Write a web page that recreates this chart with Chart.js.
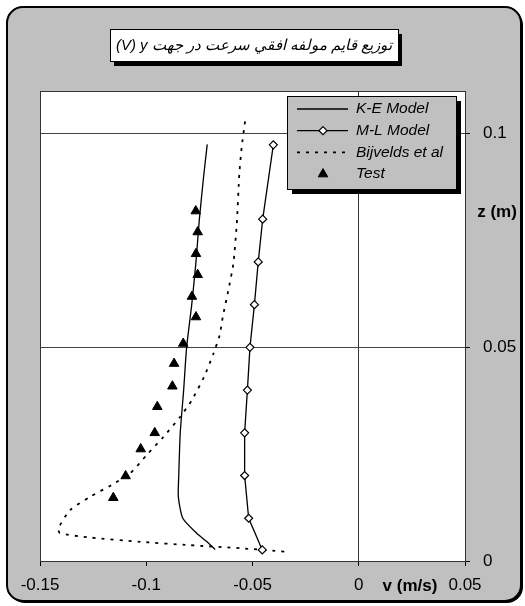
<!DOCTYPE html>
<html>
<head>
<meta charset="utf-8">
<script src="https://cdn.jsdelivr.net/npm/chart.js@4.4.1/dist/chart.umd.min.js"></script>
<style>
html, body { margin: 0; padding: 0; background: #fff; }
</style>
</head>
<body>
<canvas id="chart" width="525" height="606"></canvas>
<script>
// title is written in visual order (LTR canvas) so it reads like the original
var titleText = '(V) y توزیع قایم مولفه افقي سرعت در جهت';
var xTitle = 'v (m/s)';
var yTitle = 'z (m)';

var xTicks = [-0.15, -0.1, -0.05, 0, 0.05];
var yTicks = [0, 0.05, 0.1];

// K-E Model
var keZ = [0.0975, 0.09, 0.08, 0.07, 0.06, 0.05, 0.04, 0.03, 0.02, 0.015, 0.01, 0.0065, 0.0045, 0.0027];
var keV = [-0.0713, -0.0730, -0.0750, -0.0766, -0.0786, -0.0810, -0.0824, -0.0840, -0.0847, -0.0849, -0.0828, -0.0763, -0.0714, -0.0676];

// M-L Model
var mlZ = [0.0974, 0.08, 0.07, 0.06, 0.05, 0.04, 0.03, 0.02, 0.01, 0.0026];
var mlV = [-0.0402, -0.0452, -0.0473, -0.0491, -0.0512, -0.0524, -0.0537, -0.0537, -0.0518, -0.0454];

// Bijvelds et al
var bjZ = [0.1029, 0.0968, 0.0906, 0.0789, 0.0696, 0.0633, 0.0571, 0.0528, 0.0485, 0.0431, 0.0376, 0.0337, 0.029, 0.0248, 0.0205, 0.0178, 0.015, 0.0119, 0.0076, 0.0065, 0.0055, 0.0045, 0.0037, 0.003, 0.0022];
var bjV = [-0.0535, -0.0551, -0.0562, -0.0574, -0.0590, -0.0614, -0.0640, -0.0655, -0.0684, -0.0728, -0.0786, -0.0841, -0.0920, -0.0998, -0.1076, -0.1163, -0.1265, -0.1359, -0.1414, -0.1406, -0.1265, -0.1029, -0.0794, -0.0559, -0.0347];

// Test
var testZ = [0.0819, 0.0770, 0.0719, 0.0670, 0.0619, 0.0571, 0.0509, 0.0462, 0.0409, 0.0361, 0.0300, 0.0262, 0.0199, 0.0148];
var testV = [-0.0767, -0.0758, -0.0766, -0.0758, -0.0785, -0.0766, -0.0826, -0.0869, -0.0877, -0.0948, -0.0960, -0.1026, -0.1097, -0.1155];

function pts(xs, ys) {
  var out = [];
  for (var i = 0; i < xs.length; i++) out.push({x: xs[i], y: ys[i]});
  return out;
}

var sansFont = '"Liberation Sans", Arial, "DejaVu Sans", sans-serif';

var decor = {
  id: 'decor',
  beforeDraw: function(chart) {
    var ctx = chart.ctx, a = chart.chartArea;
    ctx.save();
    ctx.fillStyle = '#fff';
    ctx.fillRect(0, 0, chart.width, chart.height);
    // outer rounded frame with shadow
    ctx.fillStyle = '#000';
    ctx.beginPath();
    ctx.roundRect(9, 9, 514, 594, 16);
    ctx.fill();
    ctx.fillStyle = '#c0c0c0';
    ctx.strokeStyle = '#000';
    ctx.lineWidth = 2;
    ctx.beginPath();
    ctx.roundRect(7, 7, 514, 594, 16);
    ctx.fill();
    ctx.stroke();
    // plot background
    ctx.fillStyle = '#fff';
    ctx.fillRect(a.left, a.top, a.right - a.left, a.bottom - a.top);
    ctx.restore();
  },
  afterDraw: function(chart) {
    var ctx = chart.ctx, a = chart.chartArea;
    ctx.save();
    // plot border
    ctx.strokeStyle = '#333';
    ctx.lineWidth = 1;
    ctx.strokeRect(a.left + 0.5, a.top + 0.5, a.right - a.left, a.bottom - a.top);

    // legend box
    var lx = 287, ly = 96, lw = 169, lh = 93;
    ctx.fillStyle = '#000';
    ctx.fillRect(lx + 5, ly + 5, lw, lh);
    ctx.fillStyle = '#c0c0c0';
    ctx.fillRect(lx, ly, lw, lh);
    ctx.strokeStyle = '#000';
    ctx.strokeRect(lx + 0.5, ly + 0.5, lw, lh);
    chart.data.datasets.forEach(function(ds, i) {
      var y = 109 + i * 21.7;
      if (ds.showLine) {
        ctx.save();
        ctx.strokeStyle = ds.borderColor;
        ctx.lineWidth = ds.borderWidth;
        ctx.setLineDash(ds.borderDash || []);
        ctx.beginPath();
        ctx.moveTo(297, y);
        ctx.lineTo(348, y);
        ctx.stroke();
        ctx.restore();
      }
      if (ds.pointRadius > 0) {
        ctx.save();
        ctx.fillStyle = ds.pointBackgroundColor;
        ctx.strokeStyle = ds.pointBorderColor;
        ctx.lineWidth = ds.pointBorderWidth;
        Chart.helpers.drawPoint(ctx, {pointStyle: ds.pointStyle, rotation: 0, radius: ds.pointRadius, borderWidth: ds.pointBorderWidth}, 323, y);
        ctx.restore();
      }
      ctx.fillStyle = '#000';
      ctx.font = 'italic 15.5px ' + sansFont;
      ctx.textAlign = 'left';
      ctx.textBaseline = 'middle';
      ctx.fillText(ds.label, 356, y);
    });

    // title box
    var tx = 110, ty = 29, tw = 288, th = 32;
    ctx.fillStyle = '#000';
    ctx.fillRect(tx + 4, ty + 5, tw, th);
    ctx.fillStyle = '#fff';
    ctx.fillRect(tx, ty, tw, th);
    ctx.strokeStyle = '#000';
    ctx.strokeRect(tx + 0.5, ty + 0.5, tw, th);
    ctx.fillStyle = '#000';
    ctx.font = 'italic 15px ' + sansFont;
    ctx.textAlign = 'center';
    ctx.textBaseline = 'middle';
    ctx.fillText(titleText, tx + tw / 2, ty + th / 2 + 1, 276);

    // axis titles
    ctx.font = 'bold 17px ' + sansFont;
    ctx.fillText(xTitle, 410, 586);
    ctx.fillText(yTitle, 497, 212);
    ctx.restore();
  }
};

new Chart(document.getElementById('chart'), {
  type: 'scatter',
  data: {
    datasets: [{
      label: 'K-E Model',
      data: pts(keV, keZ),
      showLine: true,
      borderColor: '#000',
      borderWidth: 1.3,
      tension: 0.2,
      pointRadius: 0
    }, {
      label: 'M-L Model',
      data: pts(mlV, mlZ),
      showLine: true,
      borderColor: '#000',
      borderWidth: 1.3,
      pointStyle: 'rectRot',
      pointRadius: 4,
      pointBackgroundColor: '#fff',
      pointBorderColor: '#000',
      pointBorderWidth: 1.2
    }, {
      label: 'Bijvelds et al',
      data: pts(bjV, bjZ),
      showLine: true,
      borderColor: '#000',
      borderWidth: 1.8,
      borderDash: [3, 6],
      tension: 0.2,
      pointRadius: 0
    }, {
      label: 'Test',
      data: pts(testV, testZ),
      showLine: false,
      pointStyle: 'triangle',
      pointRadius: 5.5,
      pointBackgroundColor: '#000',
      pointBorderColor: '#000',
      pointBorderWidth: 1
    }]
  },
  options: {
    responsive: false,
    animation: false,
    devicePixelRatio: 1,
    layout: { padding: { left: 40, top: 91, right: 0, bottom: 0 } },
    plugins: {
      legend: { display: false },
      tooltip: { enabled: false }
    },
    scales: {
      x: {
        type: 'linear',
        position: 'bottom',
        min: -0.15,
        max: 0.05,
        afterBuildTicks: function(scale) {
          scale.ticks = xTicks.map(function(v) { return {value: v}; });
        },
        afterFit: function(scale) { scale.height = 45; },
        border: { display: true, color: '#333', width: 1 },
        grid: {
          color: function(c) { return c.tick && c.tick.value === 0 ? '#333' : 'rgba(0,0,0,0)'; },
          tickColor: '#000',
          tickLength: 5,
          drawTicks: true
        },
        ticks: {
          color: '#000',
          font: { family: sansFont, size: 17 },
          padding: 9,
          maxRotation: 0,
          autoSkip: false,
          callback: function(v) { return String(v); }
        }
      },
      y: {
        type: 'linear',
        position: 'right',
        min: 0,
        max: 0.11,
        afterBuildTicks: function(scale) {
          scale.ticks = yTicks.map(function(v) { return {value: v}; });
        },
        afterFit: function(scale) { scale.width = 60; },
        border: { display: true, color: '#333', width: 1 },
        grid: {
          color: '#444',
          tickColor: '#000',
          tickLength: 5
        },
        ticks: {
          color: '#000',
          font: { family: sansFont, size: 17 },
          padding: 13,
          autoSkip: false,
          callback: function(v) { return String(v); }
        }
      }
    }
  },
  plugins: [decor]
});
</script>
</body>
</html>
